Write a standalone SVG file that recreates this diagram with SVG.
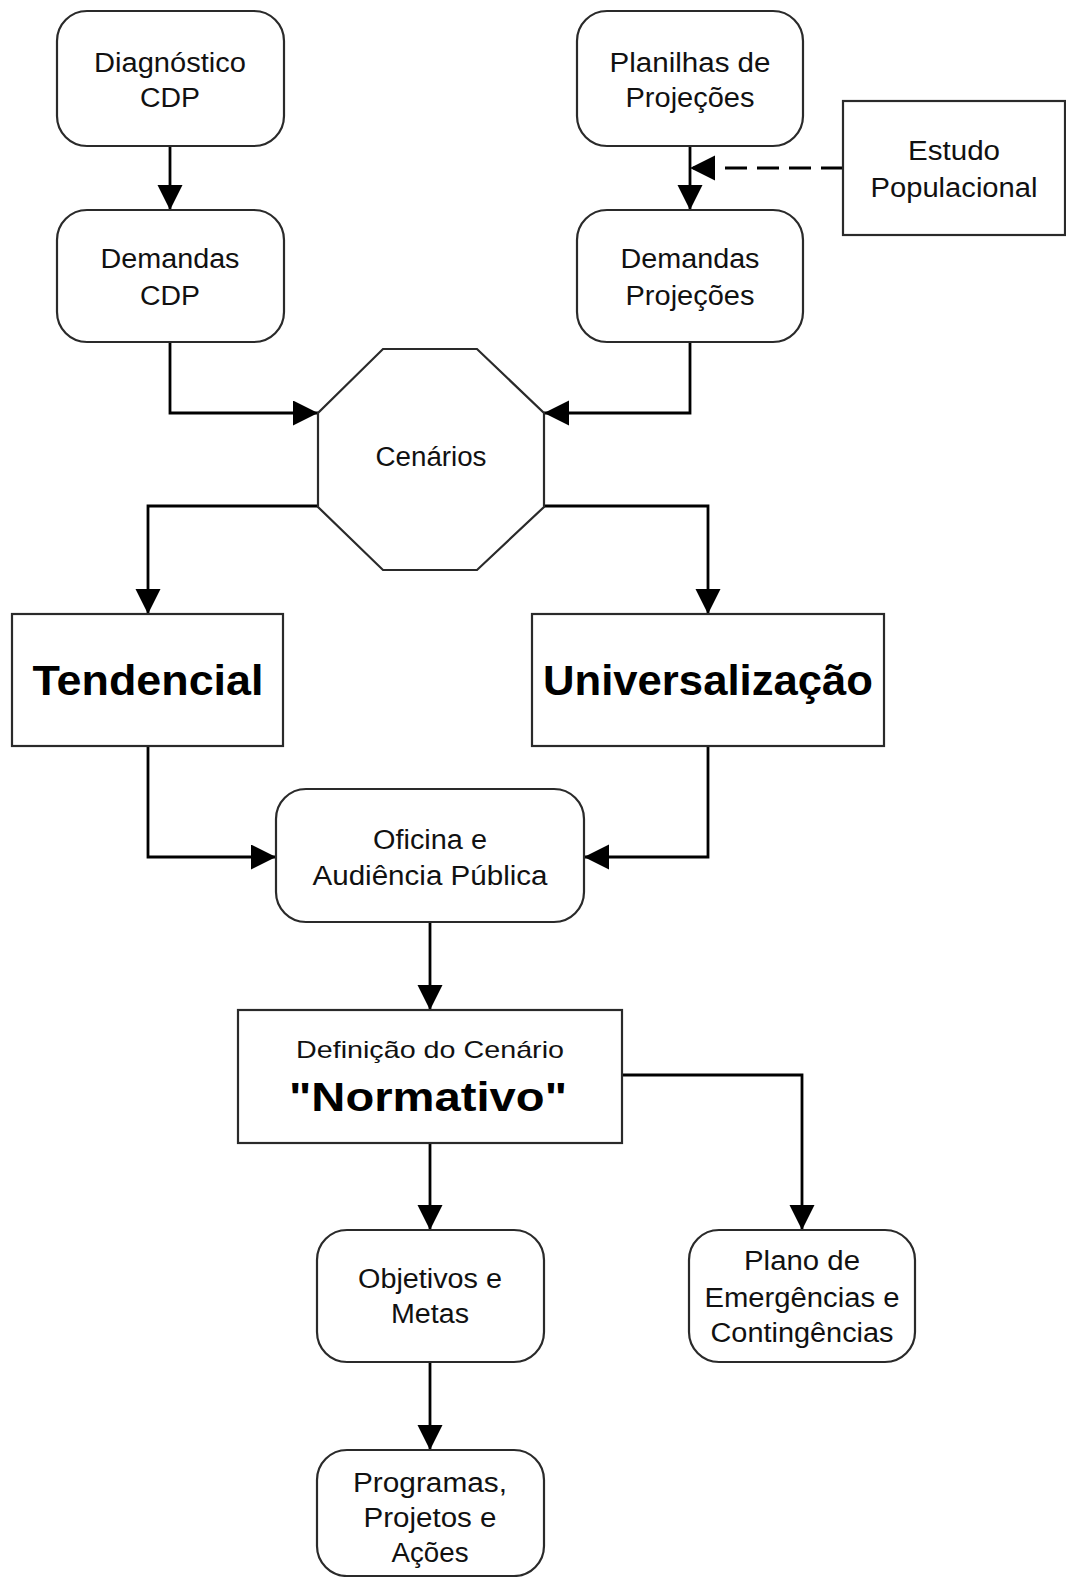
<svg xmlns="http://www.w3.org/2000/svg" width="1066" height="1577" viewBox="0 0 1066 1577">
<style>
.box{fill:#fff;stroke:#2a2a2a;stroke-width:2.2}
.t{font-family:"Liberation Sans",Arial,sans-serif;font-size:27px;fill:#111;text-anchor:middle}
.b{font-family:"Liberation Sans",Arial,sans-serif;font-size:42px;font-weight:bold;fill:#000;text-anchor:middle}
.c{fill:none;stroke:#000;stroke-width:2.8}
.d{fill:none;stroke:#000;stroke-width:2.8;stroke-dasharray:22 10}
</style>
<defs>
<marker id="ah" markerUnits="userSpaceOnUse" markerWidth="26" markerHeight="26" refX="25" refY="12.5" orient="auto" viewBox="0 0 26 26">
<path d="M0,0 L25,12.5 L0,25 Z" fill="#000"/>
</marker>
</defs>
<rect width="1066" height="1577" fill="#fff"/>
<g id="connectors">
<path class="c" d="M170,146 V210" marker-end="url(#ah)"/>
<path class="c" d="M690,146 V210" marker-end="url(#ah)"/>
<path class="d" d="M843,168 H690" marker-end="url(#ah)"/>
<path class="c" d="M170,342 V413 H318" marker-end="url(#ah)"/>
<path class="c" d="M690,342 V413 H544" marker-end="url(#ah)"/>
<path class="c" d="M318,506 H148 V614" marker-end="url(#ah)"/>
<path class="c" d="M544,506 H708 V614" marker-end="url(#ah)"/>
<path class="c" d="M148,746 V857 H276" marker-end="url(#ah)"/>
<path class="c" d="M708,746 V857 H584" marker-end="url(#ah)"/>
<path class="c" d="M430,922 V1010" marker-end="url(#ah)"/>
<path class="c" d="M430,1143 V1230" marker-end="url(#ah)"/>
<path class="c" d="M622,1075 H802 V1230" marker-end="url(#ah)"/>
<path class="c" d="M430,1362 V1450" marker-end="url(#ah)"/>
</g>
<g id="diagnostico">
<rect class="box" x="57" y="11" width="227" height="135" rx="30"/>
<text class="t" x="170" y="72" textLength="152" lengthAdjust="spacingAndGlyphs">Diagnóstico</text>
<text class="t" x="170" y="107" textLength="60" lengthAdjust="spacingAndGlyphs">CDP</text>
</g>
<g id="demandas-cdp">
<rect class="box" x="57" y="210" width="227" height="132" rx="30"/>
<text class="t" x="170" y="268" textLength="139" lengthAdjust="spacingAndGlyphs">Demandas</text>
<text class="t" x="170" y="305" textLength="60" lengthAdjust="spacingAndGlyphs">CDP</text>
</g>
<g id="planilhas">
<rect class="box" x="577" y="11" width="226" height="135" rx="30"/>
<text class="t" x="690" y="72" textLength="161" lengthAdjust="spacingAndGlyphs">Planilhas de</text>
<text class="t" x="690" y="107" textLength="129" lengthAdjust="spacingAndGlyphs">Projeções</text>
</g>
<g id="estudo">
<rect class="box" x="843" y="101" width="222" height="134"/>
<text class="t" x="954" y="160" textLength="92" lengthAdjust="spacingAndGlyphs">Estudo</text>
<text class="t" x="954" y="197" textLength="167" lengthAdjust="spacingAndGlyphs">Populacional</text>
</g>
<g id="demandas-projecoes">
<rect class="box" x="577" y="210" width="226" height="132" rx="30"/>
<text class="t" x="690" y="268" textLength="139" lengthAdjust="spacingAndGlyphs">Demandas</text>
<text class="t" x="690" y="305" textLength="129" lengthAdjust="spacingAndGlyphs">Projeções</text>
</g>
<g id="cenarios">
<polygon class="box" points="383,349 477,349 544,413 544,507 477,570 383,570 318,507 318,413"/>
<text class="t" x="431" y="466" textLength="111" lengthAdjust="spacingAndGlyphs">Cenários</text>
</g>
<g id="tendencial">
<rect class="box" x="12" y="614" width="271" height="132"/>
<text class="b" x="148" y="695" textLength="231" lengthAdjust="spacingAndGlyphs">Tendencial</text>
</g>
<g id="universalizacao">
<rect class="box" x="532" y="614" width="352" height="132"/>
<text class="b" x="708" y="695" textLength="330" lengthAdjust="spacingAndGlyphs">Universalização</text>
</g>
<g id="oficina">
<rect class="box" x="276" y="789" width="308" height="133" rx="30"/>
<text class="t" x="430" y="849" textLength="114" lengthAdjust="spacingAndGlyphs">Oficina e</text>
<text class="t" x="430" y="885" textLength="235" lengthAdjust="spacingAndGlyphs">Audiência Pública</text>
</g>
<g id="definicao">
<rect class="box" x="238" y="1010" width="384" height="133"/>
<text class="t" x="430" y="1058" style="font-size:24px" textLength="268" lengthAdjust="spacingAndGlyphs">Definição do Cenário</text>
<text class="b" x="428" y="1111" style="font-size:41px" textLength="278" lengthAdjust="spacingAndGlyphs">"Normativo"</text>
</g>
<g id="objetivos">
<rect class="box" x="317" y="1230" width="227" height="132" rx="30"/>
<text class="t" x="430" y="1288" textLength="144" lengthAdjust="spacingAndGlyphs">Objetivos e</text>
<text class="t" x="430" y="1323" textLength="78" lengthAdjust="spacingAndGlyphs">Metas</text>
</g>
<g id="plano">
<rect class="box" x="689" y="1230" width="226" height="132" rx="30"/>
<text class="t" x="802" y="1270" textLength="116" lengthAdjust="spacingAndGlyphs">Plano de</text>
<text class="t" x="802" y="1307" textLength="195" lengthAdjust="spacingAndGlyphs">Emergências e</text>
<text class="t" x="802" y="1342" textLength="183" lengthAdjust="spacingAndGlyphs">Contingências</text>
</g>
<g id="programas">
<rect class="box" x="317" y="1450" width="227" height="126" rx="30"/>
<text class="t" x="430" y="1492" textLength="154" lengthAdjust="spacingAndGlyphs">Programas,</text>
<text class="t" x="430" y="1527" textLength="133" lengthAdjust="spacingAndGlyphs">Projetos e</text>
<text class="t" x="430" y="1562" textLength="77" lengthAdjust="spacingAndGlyphs">Ações</text>
</g>
</svg>
